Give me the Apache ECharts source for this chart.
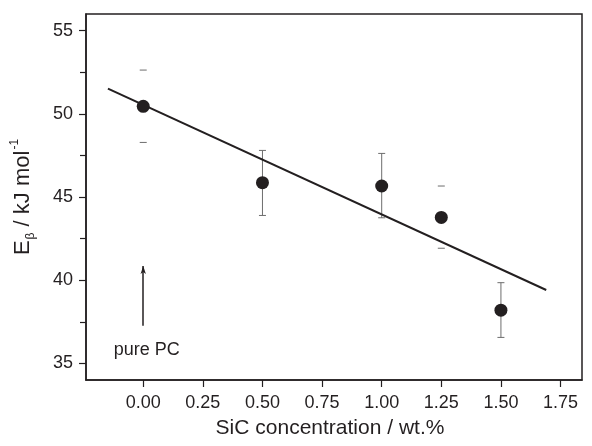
<!DOCTYPE html>
<html>
<head>
<meta charset="utf-8">
<script src="https://cdn.jsdelivr.net/npm/echarts@6/dist/echarts.min.js"></script>
<style>html,body{margin:0;padding:0;background:#fff}#c{width:592px;height:446px}</style>
</head>
<body>
<div id="c"></div>
<script>
// ---- data ----
const concentration = [0, 0.5, 1.0, 1.25, 1.5];
const energy = [50.45, 45.86, 45.66, 43.77, 38.2];
const errLow = [48.28, 43.89, 43.75, 41.92, 36.56];
const errHigh = [52.63, 47.8, 47.62, 45.66, 39.85];
const stemShown = [false, true, true, false, true];
const fitX = [-0.148, 1.69];
const fitY = [51.51, 39.41];
const xTicks = [0, 0.25, 0.5, 0.75, 1.0, 1.25, 1.5, 1.75];
const yTicks = [35, 40, 45, 50, 55];
const yMinorTicks = [37.5, 42.5, 47.5, 52.5];
const arrowX = [0, 0];
const arrowY = [37.26, 40.85];
const noteText = 'pure PC';
const notePos = [0.015, 35.82];
const xTitle = 'SiC concentration / wt.%';

const ink = '#231f20';
const font = "'Liberation Sans', Arial, Helvetica, sans-serif";

const chart = echarts.init(document.getElementById('c'), null, {renderer: 'canvas'});
const points = concentration.map((x, i) => [x, energy[i]]);
const bars = concentration.map((x, i) => [x, errLow[i], errHigh[i], stemShown[i] ? 1 : 0]);

chart.setOption({
  animation: false,
  backgroundColor: '#fff',
  grid: {left: 86, right: 10, top: 14, bottom: 66, show: true, borderColor: ink, borderWidth: 1.5, containLabel: false},
  xAxis: {
    type: 'value', min: -0.24, max: 1.84,
    name: xTitle, nameLocation: 'middle', nameGap: 38,
    nameTextStyle: {fontFamily: font, fontSize: 21, color: ink, padding: [0, 8, 0, 0]},
    axisLine: {show: true, onZero: false, lineStyle: {color: ink, width: 1.5}},
    axisTick: {show: true, inside: false, length: 7, customValues: xTicks, lineStyle: {color: ink, width: 1.2}},
    axisLabel: {customValues: xTicks, formatter: v => v.toFixed(2), fontFamily: font, fontSize: 18, color: ink, margin: 14},
    splitLine: {show: false}
  },
  yAxis: [{
    type: 'value', min: 34, max: 56, position: 'left', offset: 0,
    name: '{a|E}{b|β}{a| / kJ mol}{c|-1}', nameLocation: 'middle', nameGap: 49,
    nameTextStyle: {
      fontFamily: font, color: ink,
      rich: {
        a: {fontFamily: font, fontSize: 22, color: ink, lineHeight: 28, verticalAlign: 'middle'},
        b: {fontFamily: font, fontSize: 12, color: ink, lineHeight: 28, verticalAlign: 'bottom', padding: [0, 0, 0, 1]},
        c: {fontFamily: font, fontSize: 12, color: ink, lineHeight: 28, verticalAlign: 'top', padding: [0, 0, 0, 1]}
      }
    },
    axisLine: {show: true, onZero: false, lineStyle: {color: ink, width: 1.5}},
    axisTick: {show: true, inside: false, length: 7, customValues: yTicks, lineStyle: {color: ink, width: 1.2}},
    axisLabel: {customValues: yTicks, fontFamily: font, fontSize: 18, color: ink, margin: 13},
    splitLine: {show: false}
  }, {
    type: 'value', min: 34, max: 56, position: 'left', offset: 0,
    axisLine: {show: false, onZero: false},
    axisTick: {show: true, inside: false, length: 6, customValues: yMinorTicks, lineStyle: {color: ink, width: 1.2}},
    axisLabel: {show: false},
    splitLine: {show: false}
  }],
  series: [
    {
      type: 'custom', name: 'err', data: bars, z: 2,
      renderItem: function (params, api) {
        const x = api.value(0);
        const lo = api.coord([x, api.value(1)]);
        const hi = api.coord([x, api.value(2)]);
        const hw = 3.5;
        const style = {stroke: '#6d6d6d', lineWidth: 1};
        const children = [
          {type: 'line', shape: {x1: lo[0] - hw, y1: lo[1], x2: lo[0] + hw, y2: lo[1]}, style: style},
          {type: 'line', shape: {x1: hi[0] - hw, y1: hi[1], x2: hi[0] + hw, y2: hi[1]}, style: style}
        ];
        if (api.value(3)) {
          children.push({type: 'line', shape: {x1: lo[0], y1: lo[1], x2: hi[0], y2: hi[1]}, style: style});
        }
        return {type: 'group', children: children};
      }
    },
    {
      type: 'line', name: 'fit', data: fitX.map((x, i) => [x, fitY[i]]),
      showSymbol: false, symbol: 'none', lineStyle: {color: ink, width: 2}, z: 3
    },
    {
      type: 'scatter', name: 'Eb', data: points, symbol: 'circle', symbolSize: 13,
      itemStyle: {color: ink, opacity: 1}, z: 4
    },
    {
      type: 'line', name: 'arrow', data: arrowX.map((x, i) => [x, arrowY[i]]),
      symbol: 'none', lineStyle: {width: 0, opacity: 0}, silent: true,
      markLine: {
        silent: true, symbol: ['none', 'arrow'], symbolSize: [4, 8],
        lineStyle: {color: ink, width: 1.5, type: 'solid'}, label: {show: false},
        data: [[{coord: [arrowX[0], arrowY[0]]}, {coord: [arrowX[1], arrowY[1]]}]]
      }
    },
    {
      type: 'scatter', name: 'note', data: [notePos], symbolSize: 0, silent: true,
      itemStyle: {opacity: 1},
      label: {show: true, position: 'inside', formatter: noteText, fontFamily: font, fontSize: 18, color: ink, opacity: 1}
    }
  ]
});
</script>
</body>
</html>
